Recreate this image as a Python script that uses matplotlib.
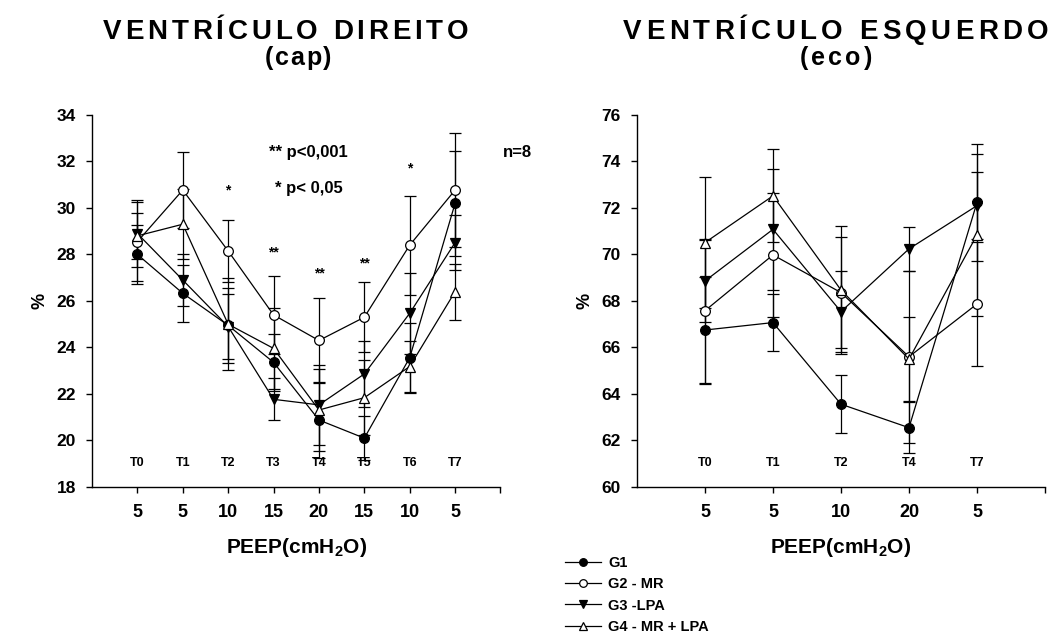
import matplotlib
matplotlib.use("Agg")
import matplotlib.pyplot as plt
from matplotlib import font_manager
from matplotlib.ft2font import FT2Font
from matplotlib.lines import Line2D

plt.rcParams['font.family'] = 'Liberation Sans'
plt.rcParams['font.weight'] = 'bold'
plt.rcParams['mathtext.fontset'] = 'custom'
plt.rcParams['mathtext.rm'] = 'Liberation Sans:bold'
plt.rcParams['mathtext.bf'] = 'Liberation Sans:bold'

# Ventrículo direito (cap), momentos T0..T7
vd_tempos = ['T0', 'T1', 'T2', 'T3', 'T4', 'T5', 'T6', 'T7']
vd_peep = ['5', '5', '10', '15', '20', '15', '10', '5']
vd_g1 = [28.0, 26.33, 24.95, 23.36, 20.88, 20.10, 23.56, 30.20]
vd_g1_ep = [1.25, 1.23, 1.6, 1.24, 1.64, 0.96, 1.5, 2.27]
vd_g2 = [28.55, 30.77, 28.15, 25.40, 24.30, 25.30, 28.40, 30.77]
vd_g2_ep = [1.7, 1.63, 1.35, 1.69, 1.84, 1.5, 2.13, 2.44]
vd_g3 = [28.9, 26.9, 24.9, 21.77, 21.53, 22.86, 25.47, 28.51]
vd_g3_ep = [1.45, 1.1, 1.4, 0.9, 1.72, 1.42, 1.73, 1.2]
vd_g4 = [28.8, 29.3, 25.0, 23.96, 21.31, 21.84, 23.18, 26.4]
vd_g4_ep = [1.0, 1.5, 1.97, 1.74, 1.75, 1.6, 1.1, 1.2]
# asteriscos de significância: (momento, texto, altura)
vd_sig = [(2, '*', 30.75), (3, '**', 28.1), (4, '**', 27.2), (5, '**', 27.6), (6, '*', 31.7)]

# Ventrículo esquerdo (eco), momentos T0, T1, T2, T4, T7
ve_tempos = ['T0', 'T1', 'T2', 'T4', 'T7']
ve_peep = ['5', '5', '10', '20', '5']
ve_g1 = [66.75, 67.07, 63.56, 62.55, 72.24]
ve_g1_ep = [2.3, 1.22, 1.25, 1.1, 2.5]
ve_g2 = [67.58, 69.98, 68.36, 65.6, 67.87]
ve_g2_ep = [3.1, 2.68, 2.4, 3.7, 2.65]
ve_g3 = [68.86, 71.08, 67.54, 70.24, 72.1]
ve_g3_ep = [1.75, 2.6, 1.75, 0.96, 1.43]
ve_g4 = [70.51, 72.52, 68.47, 65.5, 70.84]
ve_g4_ep = [2.81, 2.0, 2.76, 1.8, 3.48]

grupos = ['G1', 'G2 - MR', 'G3 -LPA', 'G4 - MR + LPA']
marcadores = [('o', 'black'), ('o', 'white'), ('v', 'black'), ('^', 'white')]

W, H = 1049, 634
fig = plt.figure(figsize=(W / 100, H / 100), dpi=100)
ax1 = fig.add_axes([0.0877, 0.2319, 0.3894, 0.5868])
ax2 = fig.add_axes([0.6072, 0.2319, 0.3890, 0.5868])


def painel(ax, medias, eps, peep, tempos, ylim, t_y):
    x = list(range(len(peep)))
    for vals, ep, (mk, fc) in zip(medias, eps, marcadores):
        ax.errorbar(x, vals, yerr=ep, color='black', lw=0.9, marker=mk, ms=7,
                    mfc=fc, mec='black', mew=0.9, capsize=4.5,
                    elinewidth=0.9, capthick=0.9)
    ax.set_xlim(-1, len(peep))
    ax.set_ylim(*ylim)
    ax.set_xticks(list(range(len(peep) + 1)))
    ax.set_xticklabels(peep + [''])
    ax.set_yticks(list(range(ylim[0], ylim[1] + 1, 2)))
    for s in ['top', 'right']:
        ax.spines[s].set_visible(False)
    for s in ['left', 'bottom']:
        ax.spines[s].set_linewidth(1.0)
    ax.tick_params(axis='x', direction='out', length=4, width=1, labelsize=13, pad=8)
    ax.tick_params(axis='y', direction='out', length=4.5, width=1, labelsize=12.5, pad=7)
    for i, t in enumerate(tempos):
        ax.text(i, t_y, t, ha='center', va='center', fontsize=9)
    ax.text(-0.128, 0.5, '%', rotation=90, ha='center', va='center',
            fontsize=13, transform=ax.transAxes)
    ax.text(0.5, -0.164, r'PEEP(cmH$_{2}$O)', ha='center', va='center',
            fontsize=15, transform=ax.transAxes)


painel(ax1, [vd_g1, vd_g2, vd_g3, vd_g4], [vd_g1_ep, vd_g2_ep, vd_g3_ep, vd_g4_ep],
       vd_peep, vd_tempos, (18, 34), 19.03)
painel(ax2, [ve_g1, ve_g2, ve_g3, ve_g4], [ve_g1_ep, ve_g2_ep, ve_g3_ep, ve_g4_ep],
       ve_peep, ve_tempos, (60, 76), 61.03)

for xi, txt, yi in vd_sig:
    ax1.text(xi, yi, txt, ha='center', va='center', fontsize=10)
ax1.text(2.89, 32.4, '** p<0,001', ha='left', va='center', fontsize=12)
ax1.text(3.03, 30.85, '* p< 0,05', ha='left', va='center', fontsize=12)
fig.text(503 / W, 1 - 152 / H, 'n=8', ha='left', va='center', fontsize=12)


def titulo(xc, base, s, size, largura):
    # texto com espaçamento entre letras, centrado em xc (pixels)
    fp = font_manager.FontProperties(family='Liberation Sans', weight='bold', size=size)
    ft = FT2Font(font_manager.findfont(fp))
    ft.set_size(size, fig.dpi)
    avancos = [ft.load_char(ord(c)).linearHoriAdvance / 65536 for c in s]
    extra = (largura - sum(avancos)) / (len(s) - 1)
    x = xc - largura / 2
    for c, a in zip(s, avancos):
        if c != ' ':
            fig.text(x / W, 1 - base / H, c, ha='left', va='baseline',
                     fontproperties=fp)
        x += a + extra


titulo(285.5, 39, 'VENTRÍCULO DIREITO', 20, 365)
titulo(298, 65, '(cap)', 18, 67)
titulo(835.5, 39, 'VENTRÍCULO ESQUERDO', 20, 425)
titulo(836, 65, '(eco)', 18, 72)

handles = [Line2D([], [], color='black', lw=0.9, marker=mk, ms=5.5, mfc=fc,
                  mec='black', mew=0.9) for mk, fc in marcadores]
fig.legend(handles, grupos, loc='upper left', bbox_to_anchor=(565 / W, 1 - 556 / H),
           frameon=False, fontsize=10.5, handlelength=2.5, handletextpad=0.45,
           labelspacing=0.5, borderpad=0, borderaxespad=0)

fig.savefig('out.png', dpi=100)
